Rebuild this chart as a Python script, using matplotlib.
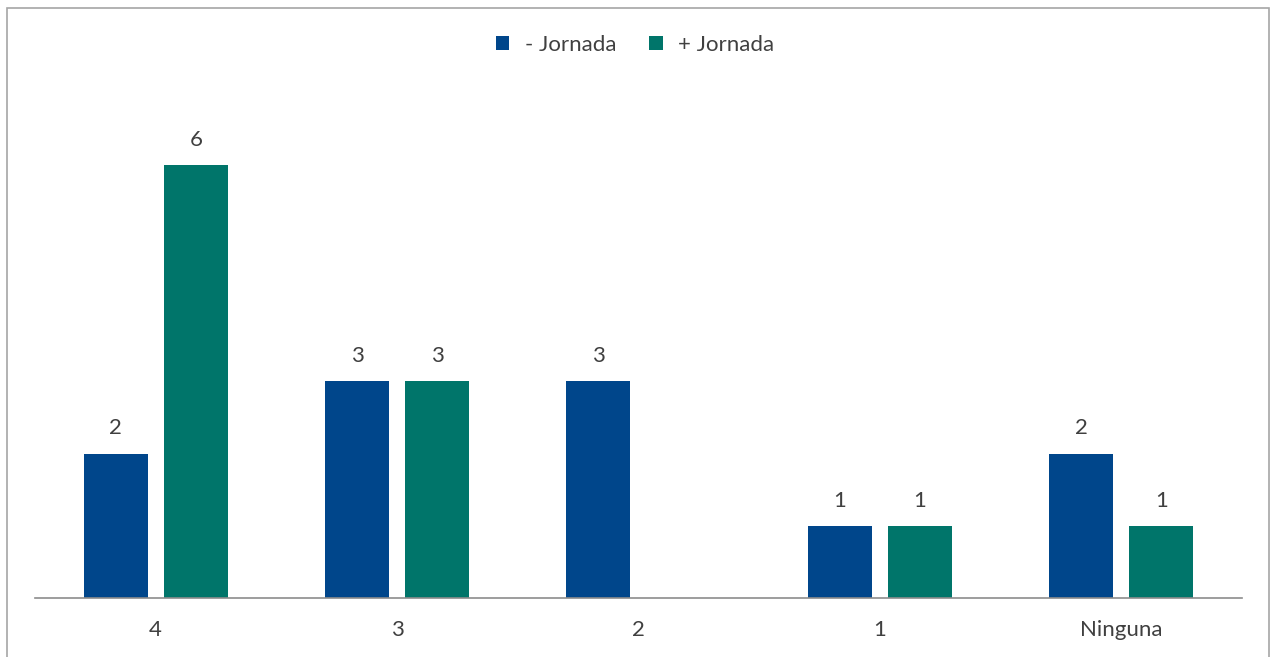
import matplotlib

matplotlib.use("Agg")
import matplotlib.pyplot as plt
from matplotlib.patches import Rectangle
import numpy as np

categories = ["4", "3", "2", "1", "Ninguna"]
menos_jornada = [2, 3, 3, 1, 2]
mas_jornada = [6, 3, 0, 1, 1]

BLUE = "#00468B"
GREEN = "#00756A"
TEXT = "#404040"
FS = 16

plt.rcParams["font.family"] = ["Lato", "DejaVu Sans"]

fig = plt.figure(figsize=(12.7, 6.57), dpi=100)
fig.patch.set_facecolor("white")
ax = fig.add_axes([35 / 1270, 1 - 598 / 657, 1207 / 1270, 518 / 657])

x = np.arange(len(categories))
width = 0.265
offset = 0.166
b1 = ax.bar(x - offset, menos_jornada, width, color=BLUE, label="- Jornada")
b2 = ax.bar(x + offset, mas_jornada, width, color=GREEN, label="+ Jornada")

for bars, vals in ((b1, menos_jornada), (b2, mas_jornada)):
    for bar, v in zip(bars, vals):
        if v == 0:
            continue
        ax.annotate(str(v), xy=(bar.get_x() + bar.get_width() / 2, v),
                    xytext=(0, 11), textcoords="offset points",
                    ha="center", va="bottom", fontsize=FS, color=TEXT)

ax.set_xlim(-0.5, len(categories) - 0.5)
ax.set_ylim(0, 518 / 72.17)
ax.set_xticks(x)
ax.set_xticklabels(categories, fontsize=FS, color=TEXT)
ax.tick_params(axis="x", length=0, pad=16)
ax.set_yticks([])
for side in ("top", "right", "left"):
    ax.spines[side].set_visible(False)
ax.spines["bottom"].set_color("#8c8c8c")
ax.spines["bottom"].set_linewidth(1.2)

fig.legend(handles=[b1, b2], loc="center", bbox_to_anchor=(0.5, 1 - 45 / 657),
           ncol=2, frameon=False, fontsize=FS, labelcolor=TEXT,
           handlelength=0.6, handleheight=0.6, columnspacing=1.5, handletextpad=0.7)

fig.patches.append(Rectangle((7 / 1270, -0.05), 1262 / 1270, 1.05 - 8 / 657,
                             transform=fig.transFigure, fill=False,
                             edgecolor="#a6a6a6", linewidth=1.2))

fig.savefig("out.png", dpi=100)
